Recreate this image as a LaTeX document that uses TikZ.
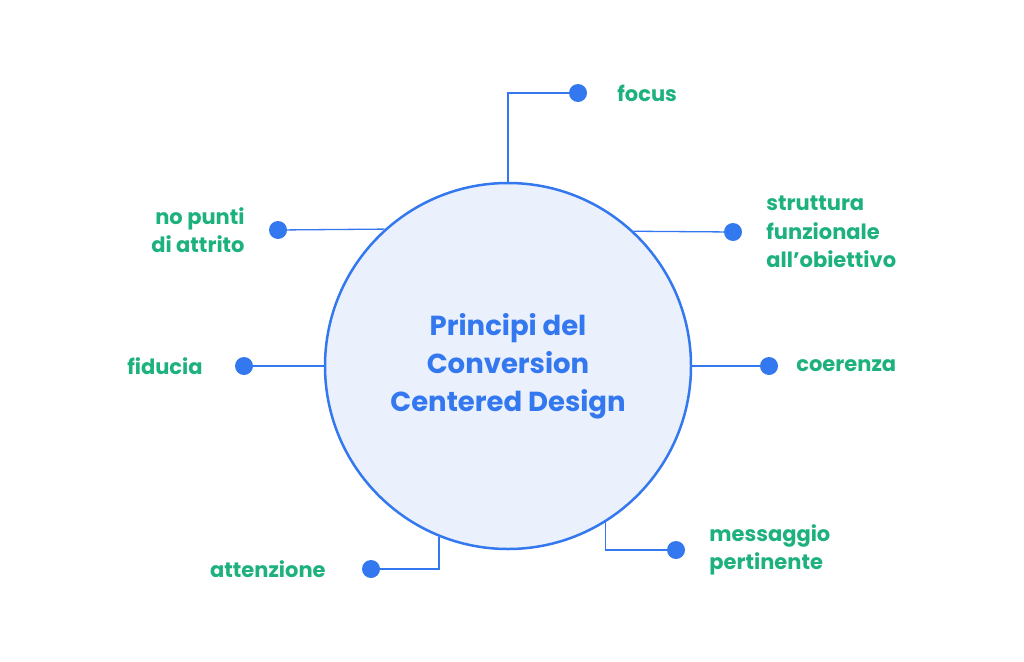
\documentclass[tikz,border=0pt]{standalone}
\usepackage{fontspec}
\setmainfont{Poppins}
\usetikzlibrary{positioning}
\definecolor{ccdblue}{HTML}{3478F0}
\definecolor{ccdfill}{HTML}{EAF0FC}
\definecolor{ccdgreen}{HTML}{1DB17D}

\begin{document}
\begin{tikzpicture}[
    x=1pt, y=-1pt,
    every node/.style={font=\fontsize{21}{28.5}\selectfont\bfseries},
    hub/.style={
        circle,
        draw=ccdblue,
        line width=2.5pt,
        fill=ccdfill,
        minimum size=366pt,
        align=center,
        text=ccdblue,
        font=\fontsize{27.5}{38}\selectfont\bfseries
    },
    dot/.style={
        circle,
        fill=ccdblue,
        inner sep=0pt,
        minimum size=18pt
    },
    leaf/.style={
        text=ccdgreen,
        inner sep=0pt
    },
    link/.style={
        draw=ccdblue,
        line width=1.3pt
    }
]
\useasboundingbox (0,0) rectangle (1024,661);

% Central circle
\node[hub] (hub) at (508,366) {Principi del\\Conversion\\Centered Design};

% Dots
\node[dot] (dfocus) at (578,93) {};
\node[dot] (dstrut) at (733,232) {};
\node[dot] (dcoer) at (769,366) {};
\node[dot] (dmess) at (676,550) {};
\node[dot] (datt) at (371,569) {};
\node[dot] (dfid) at (244,366) {};
\node[dot] (dnop) at (278,230) {};

% Labels
\node[leaf, right=30pt of dfocus] (lfocus) {focus};
\node[leaf, align=left, right=24pt of dstrut] (lstrut) {struttura\\funzionale\\all’obiettivo};
\node[leaf, right=18pt of dcoer] (lcoer) {coerenza};
\node[leaf, align=left, right=24pt of dmess] (lmess) {messaggio\\pertinente};
\node[leaf, left=36pt of datt] (latt) {attenzione};
\node[leaf, left=32pt of dfid] (lfid) {fiducia};
\node[leaf, align=right, left=24pt of dnop] (lnop) {no punti\\di attrito};

% Connectors
\draw[link] (hub.90) |- (dfocus);
\draw[link] (hub.47) -- (dstrut);
\draw[link] (hub.east) -- (dcoer);
\draw[link] (hub.-58) |- (dmess);
\draw[link] (hub.-112) |- (datt);
\draw[link] (hub.west) -- (dfid);
\draw[link] (hub.132) -- (dnop);
\end{tikzpicture}
\end{document}
